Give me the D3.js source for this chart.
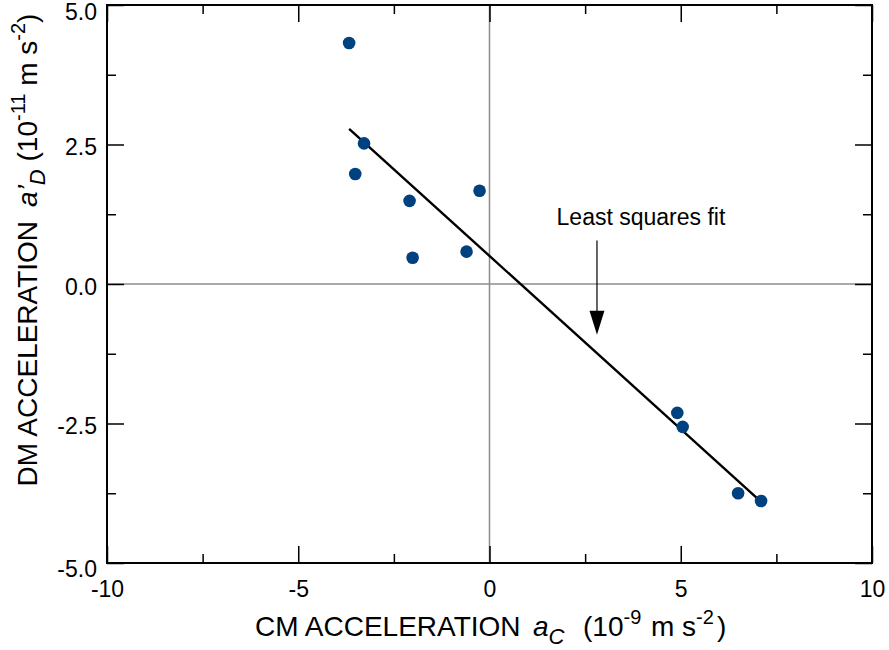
<!DOCTYPE html>
<html>
<head>
<meta charset="utf-8">
<script src="https://cdn.jsdelivr.net/npm/d3@7"></script>
<style>
  body { margin: 0; background: #fff; }
  text { font-family: "Liberation Sans", Arial, sans-serif; fill: #000; }
</style>
</head>
<body>
<script>
// CM acceleration (10^-9 m s^-2) vs DM acceleration (10^-11 m s^-2)
const cmAccel = [-3.67, -3.28, -3.51, -2.09, -0.26, -2.01, -0.60, 4.91, 5.05, 6.50, 7.10];
const dmAccel = [4.32, 2.52, 1.97, 1.49, 1.67, 0.47, 0.58, -2.31, -2.56, -3.75, -3.89];

// least squares fit line, end points
const fitX = [-3.67, 7.08];
const fitY = [2.78, -3.89];

const xMajor = [-10, -5, 0, 5, 10];
const xMinor = [-7.5, -2.5, 2.5, 7.5];
const xLabels = ["-10", "-5", "0", "5", "10"];
const yMajor = [-5, -2.5, 0, 2.5, 5];
const yMinor = [-3.75, -1.25, 1.25, 3.75];
const yLabels = ["-5.0", "-2.5", "0.0", "2.5", "5.0"];

const margin = { top: 5, right: 17, bottom: 87, left: 107 };
const W = 889, H = 650;
const width = W - margin.left - margin.right;
const height = H - margin.top - margin.bottom;

const svg = d3.select("body")
  .append("svg")
  .attr("width", W)
  .attr("height", H);

const g = svg.append("g")
  .attr("transform", `translate(${margin.left},${margin.top})`);

const x = d3.scaleLinear().domain([-10, 10]).range([0, width]);
const y = d3.scaleLinear().domain([-5, 5]).range([height, 0]);

// zero lines
g.append("line")
  .attr("x1", x(0)).attr("x2", x(0))
  .attr("y1", 0).attr("y2", height)
  .attr("stroke", "#8c8c8c").attr("stroke-width", 1.5);
g.append("line")
  .attr("x1", 0).attr("x2", width)
  .attr("y1", y(0)).attr("y2", y(0))
  .attr("stroke", "#8c8c8c").attr("stroke-width", 1.5);

// axes: major ticks with labels, minor ticks, ticks on all sides
function styleAxis(sel) {
  sel.select(".domain").remove();
  sel.selectAll(".tick line").attr("stroke", "#000").attr("stroke-width", 1.5);
  sel.selectAll(".tick text").style("font-size", "23px")
    .style("font-family", '"Liberation Sans", Arial, sans-serif');
}

g.append("g")
  .attr("transform", `translate(0,${height})`)
  .call(d3.axisBottom(x).tickValues(xMajor).tickSize(-17).tickPadding(18)
    .tickFormat((d, i) => xLabels[i]))
  .call(styleAxis);
g.append("g")
  .attr("transform", `translate(0,${height})`)
  .call(d3.axisBottom(x).tickValues(xMinor).tickSize(-9).tickFormat(""))
  .call(styleAxis);
g.append("g")
  .call(d3.axisTop(x).tickValues(xMajor).tickSize(-17).tickFormat(""))
  .call(styleAxis);
g.append("g")
  .call(d3.axisTop(x).tickValues(xMinor).tickSize(-9).tickFormat(""))
  .call(styleAxis);

const yAxis = g.append("g")
  .call(d3.axisLeft(y).tickValues(yMajor).tickSize(-17).tickPadding(10)
    .tickFormat((d, i) => yLabels[i]))
  .call(styleAxis);
// labels sit a little below their ticks; the end ones are pushed inside the page
yAxis.selectAll(".tick text")
  .attr("y", d => d === 5 ? 7 : d === -5 ? 6 : 3);

g.append("g")
  .call(d3.axisLeft(y).tickValues(yMinor).tickSize(-9).tickFormat(""))
  .call(styleAxis);
g.append("g")
  .attr("transform", `translate(${width},0)`)
  .call(d3.axisRight(y).tickValues(yMajor).tickSize(-17).tickFormat(""))
  .call(styleAxis);
g.append("g")
  .attr("transform", `translate(${width},0)`)
  .call(d3.axisRight(y).tickValues(yMinor).tickSize(-9).tickFormat(""))
  .call(styleAxis);

// frame
g.append("rect")
  .attr("x", 0).attr("y", 0)
  .attr("width", width).attr("height", height)
  .attr("fill", "none").attr("stroke", "#000").attr("stroke-width", 2);

// fit line
g.append("line")
  .attr("x1", x(fitX[0])).attr("y1", y(fitY[0]))
  .attr("x2", x(fitX[1])).attr("y2", y(fitY[1]))
  .attr("stroke", "#000").attr("stroke-width", 2.4);

// points
g.selectAll("circle")
  .data(cmAccel.map((v, i) => [v, dmAccel[i]]))
  .enter()
  .append("circle")
  .attr("cx", d => x(d[0]))
  .attr("cy", d => y(d[1]))
  .attr("r", 6.3)
  .attr("fill", "#00427f");

// annotation
const ax = 2.81, ayTop = 0.78, ayTip = -0.91;
g.append("line")
  .attr("x1", x(ax)).attr("x2", x(ax))
  .attr("y1", y(ayTop)).attr("y2", y(ayTip) - 20)
  .attr("stroke", "#000").attr("stroke-width", 1.2);
g.append("path")
  .attr("d", `M${x(ax) - 7.5},${y(ayTip) - 24} L${x(ax) + 7.5},${y(ayTip) - 24} L${x(ax)},${y(ayTip)} Z`)
  .attr("fill", "#000");
g.append("text")
  .attr("x", x(3.96)).attr("y", y(1.06))
  .attr("text-anchor", "middle")
  .style("font-size", "23px")
  .text("Least squares fit");

// axis titles
const xt = svg.append("text")
  .attr("x", 255).attr("y", 636)
  .style("font-size", "28px");
xt.append("tspan").text("CM ACCELERATION");
xt.append("tspan").attr("x", 533).style("font-style", "italic").text("a");
xt.append("tspan").style("font-style", "italic").style("font-size", "22px").attr("dy", 8).text("C");
xt.append("tspan").attr("x", 583).attr("dy", -8).text("(10");
xt.append("tspan").style("font-size", "20px").attr("dy", -12).text("-9");
xt.append("tspan").attr("x", 651).attr("dy", 12).text("m s");
xt.append("tspan").style("font-size", "20px").attr("dy", -12).text("-2");
xt.append("tspan").attr("x", 717).attr("dy", 12).text(")");

const yt = svg.append("text")
  .attr("transform", "translate(37,250) rotate(-90)")
  .attr("text-anchor", "middle")
  .style("font-size", "28px");
yt.append("tspan").text("DM ACCELERATION\u2002");
yt.append("tspan").style("font-style", "italic").text("a\u2019");
yt.append("tspan").style("font-style", "italic").style("font-size", "22px").attr("dy", 8).text("D");
yt.append("tspan").attr("dy", -8).text(" (10");
yt.append("tspan").style("font-size", "20px").attr("dy", -12).text("-11");
yt.append("tspan").attr("dy", 12).text("  m s");
yt.append("tspan").style("font-size", "20px").attr("dy", -12).text("-2");
yt.append("tspan").attr("dy", 12).text(")");
</script>
</body>
</html>
